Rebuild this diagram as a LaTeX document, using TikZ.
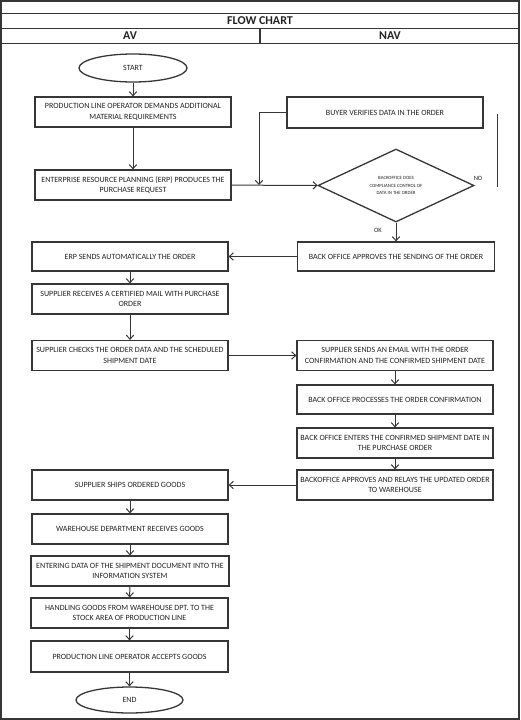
\documentclass[tikz,border=0pt]{standalone}
\usepackage{fontspec}
\setmainfont{Carlito}
\usetikzlibrary{shapes.geometric,arrows.meta}
\definecolor{lc}{HTML}{363636}
\definecolor{tc}{HTML}{222222}
\tikzset{
  stepbox/.style={draw=lc, line width=1.3pt, rectangle, minimum width=196pt, minimum height=30pt, inner sep=0pt, align=center, text=tc, font=\fontsize{8}{10.7}\selectfont},
  term/.style={draw=lc, line width=1.3pt, ellipse, minimum width=108pt, minimum height=28pt, inner sep=0pt, text=tc, font=\fontsize{8}{10}\selectfont},
  decide/.style={draw=lc, line width=1.3pt, diamond, aspect=2.1, minimum width=156pt, minimum height=73pt, inner sep=0pt, align=center, text=tc, font=\fontsize{4.8}{7.3}\selectfont},
  arr/.style={draw=lc, line width=1pt, -{Straight Barb[length=4pt,width=7.5pt]}},
  plain/.style={draw=lc, line width=1pt},
  frame/.style={draw=lc, line width=1.3pt},
  lbl/.style={text=tc, inner sep=0pt, font=\fontsize{6.5}{7}\selectfont},
  head/.style={text=tc, inner sep=0pt, font=\fontsize{12}{13}\selectfont\bfseries}
}
\begin{document}
\begin{tikzpicture}[x=1pt,y=-1pt]
\useasboundingbox (0,0) rectangle (520,720);
% frame and header
\draw[frame] (1,1) rectangle (519,719);
\draw[frame] (1,13.3) -- (519,13.3);
\draw[frame] (1,28.3) -- (519,28.3);
\draw[frame] (1,43.3) -- (519,43.3);
\draw[frame] (260,28.3) -- (260,43.3);
\node[head] (title) at (260,20.8) {FLOW CHART};
\node[head] (av) at (130,35.8) {AV};
\node[head] (nav) at (390,35.8) {NAV};
% nodes
\node[term] (start) at (133,68) {START};
\node[stepbox] (b1) at (133,112) {PRODUCTION LINE OPERATOR DEMANDS ADDITIONAL\\MATERIAL REQUIREMENTS};
\node[stepbox, minimum height=31pt] (buyer) at (385,112.5) {BUYER VERIFIES DATA IN THE ORDER};
\node[stepbox] (b2) at (133,185) {ENTERPRISE RESOURCE PLANNING (ERP) PRODUCES THE\\PURCHASE REQUEST};
\node[decide] (dia) at (396,185.5) {BACKOFFICE DOES\\COMPLIANCE CONTROL OF\\DATA IN THE ORDER};
\node[stepbox, minimum width=197pt, minimum height=29pt] (boa) at (396,256.5) {BACK OFFICE APPROVES THE SENDING OF THE ORDER};
\node[stepbox, minimum height=29pt] (erps) at (130,256.5) {ERP SENDS AUTOMATICALLY THE ORDER};
\node[stepbox] (srecv) at (130,299) {SUPPLIER RECEIVES A CERTIFIED MAIL WITH PURCHASE\\ORDER};
\node[stepbox] (schk) at (130,355.5) {SUPPLIER CHECKS THE ORDER DATA AND THE SCHEDULED\\SHIPMENT DATE};
\node[stepbox] (ssend) at (395,355.5) {SUPPLIER SENDS AN EMAIL WITH THE ORDER\\CONFIRMATION AND THE CONFIRMED SHIPMENT DATE};
\node[stepbox, minimum height=29pt] (bproc) at (395,399.5) {BACK OFFICE PROCESSES THE ORDER CONFIRMATION};
\node[stepbox] (bent) at (395,443) {BACK OFFICE ENTERS THE CONFIRMED SHIPMENT DATE IN\\THE PURCHASE ORDER};
\node[stepbox] (relay) at (395,485) {BACKOFFICE APPROVES AND RELAYS THE UPDATED ORDER\\TO WAREHOUSE};
\node[stepbox] (ships) at (130,485) {SUPPLIER SHIPS ORDERED GOODS};
\node[stepbox] (wh) at (130,529) {WAREHOUSE DEPARTMENT RECEIVES GOODS};
\node[stepbox, minimum width=198pt] (entd) at (130,571) {ENTERING DATA OF THE SHIPMENT DOCUMENT INTO THE\\INFORMATION SYSTEM};
\node[stepbox, minimum width=197pt] (hand) at (129.5,613) {HANDLING GOODS FROM WAREHOUSE DPT. TO THE\\STOCK AREA OF PRODUCTION LINE};
\node[stepbox, minimum width=197pt, minimum height=31pt] (acc) at (129.5,656.5) {PRODUCTION LINE OPERATOR ACCEPTS GOODS};
\node[term, minimum width=107pt, minimum height=26pt] (end) at (129.5,700) {END};
% labels
\node[lbl] (no) at (478,178) {NO};
\node[lbl] (ok) at (378,230) {OK};
% coordinates
\coordinate (j) at (259,185);
\coordinate (v1) at (497,114);
\coordinate (v2) at (497,187);
% connectors
\draw[arr] (start) -- (b1);
\draw[arr] (b1) -- (b2);
\draw[arr] (b2) -- (dia);
\draw[arr] (buyer.west) -| (j);
\draw[plain] (v1) -- (v2);
\draw[arr] (dia) -- (boa);
\draw[arr] (boa) -- (erps);
\draw[arr] (erps) -- (srecv);
\draw[arr] (srecv) -- (schk);
\draw[arr] (schk) -- (ssend);
\draw[arr] (ssend) -- (bproc);
\draw[arr] (bproc) -- (bent);
\draw[arr] (bent) -- (relay);
\draw[arr] (relay) -- (ships);
\draw[arr] (ships) -- (wh);
\draw[arr] (wh) -- (entd);
\draw[arr] (entd) -- (hand);
\draw[arr] (hand) -- (acc);
\draw[arr] (acc) -- (end);
\end{tikzpicture}
\end{document}
